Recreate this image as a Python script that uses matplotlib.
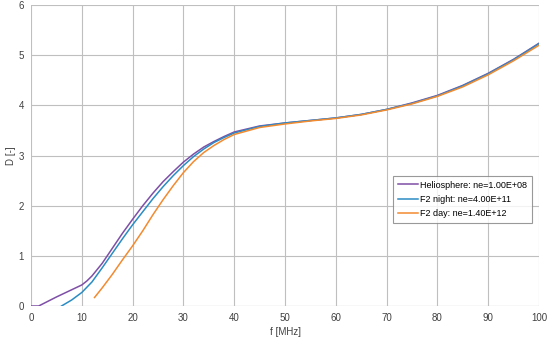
import matplotlib.pyplot as plt
import numpy as np

plt.rcParams['font.family'] = ['Liberation Sans', 'DejaVu Sans']

# Heliosphere: ne=1.00E+08
f_helio = [0, 1.5, 5, 10, 11, 12, 14, 16, 18, 20, 22, 24, 26, 28, 30, 32, 34, 36, 38, 40,
           45, 50, 55, 60, 65, 70, 75, 80, 85, 90, 95, 100]
d_helio = [0, 0, 0.18, 0.42, 0.5, 0.6, 0.85, 1.15, 1.45, 1.73, 2.0, 2.25, 2.48, 2.68, 2.87,
           3.03, 3.17, 3.28, 3.38, 3.47, 3.59, 3.65, 3.70, 3.75, 3.82, 3.92, 4.05, 4.20, 4.40,
           4.64, 4.92, 5.24]

# F2 night: ne=4.00E+11
f_night = [6, 8, 10, 12, 14, 16, 18, 20, 22, 24, 26, 28, 30, 32, 34, 36, 38, 40,
           45, 50, 55, 60, 65, 70, 75, 80, 85, 90, 95, 100]
d_night = [0, 0.12, 0.27, 0.48, 0.76, 1.05, 1.34, 1.62, 1.88, 2.14, 2.38, 2.60, 2.80,
           2.98, 3.13, 3.26, 3.36, 3.45, 3.58, 3.65, 3.70, 3.75, 3.82, 3.92, 4.04, 4.19,
           4.39, 4.63, 4.91, 5.23]

# F2 day: ne=1.40E+12
f_day = [12.5, 14, 16, 18, 20, 22, 24, 26, 28, 30, 32, 34, 36, 38, 40,
         45, 50, 55, 60, 65, 70, 75, 80, 85, 90, 95, 100]
d_day = [0.17, 0.36, 0.63, 0.92, 1.2, 1.5, 1.82, 2.12, 2.4, 2.66, 2.88, 3.06, 3.2, 3.32,
         3.42, 3.56, 3.63, 3.69, 3.74, 3.81, 3.91, 4.03, 4.18, 4.37, 4.61, 4.89, 5.20]

fig = plt.figure(figsize=(5.5, 3.41), dpi=100)
ax = fig.add_axes([0.0564, 0.1026, 0.9236, 0.8824])

ax.plot(f_helio, d_helio, color='#7E4FA6', lw=1.1, label='Heliosphere: ne=1.00E+08')
ax.plot(f_night, d_night, color='#2B8CC4', lw=1.1, label='F2 night: ne=4.00E+11')
ax.plot(f_day, d_day, color='#F28A30', lw=1.1, label='F2 day: ne=1.40E+12')

ax.set_xlim(0, 100)
ax.set_ylim(0, 6)
ax.set_xticks(np.arange(0, 101, 10))
ax.set_yticks(np.arange(0, 7, 1))
ax.grid(True, color='#BFBFBF', linewidth=0.8)
ax.set_axisbelow(True)
for s in ax.spines.values():
    s.set_visible(False)
ax.axhline(0, color='#BFBFBF', lw=0.8, zorder=0)
ax.tick_params(length=0, labelsize=7, colors='#404040', pad=5)
ax.set_xlabel('f [MHz]', fontsize=7, color='#404040', labelpad=3)
ax.set_ylabel('D [-]', fontsize=7, color='#404040', labelpad=2)

leg = ax.legend(loc='upper left', bbox_to_anchor=(0.713, 0.432), fontsize=6.5,
                frameon=True, fancybox=False, handlelength=2.2, handletextpad=0.3,
                borderpad=0.5, labelspacing=0.6, borderaxespad=0)
leg.get_frame().set_edgecolor('#808080')
leg.get_frame().set_linewidth(0.8)

plt.savefig('out.png', dpi=100)
